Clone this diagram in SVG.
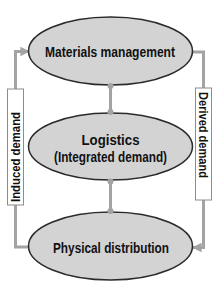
<svg xmlns="http://www.w3.org/2000/svg" width="223" height="293" viewBox="0 0 223 293">
<style>
.bg{fill:#ffffff}
.conn{fill:none;stroke:#a3a3a3;stroke-width:3}
.dot{fill:#a3a3a3}
.node{fill:#d3d3d3;stroke:#2a2a2a;stroke-width:1.5}
.lbl{fill:#ffffff;stroke:#8c8c8c;stroke-width:1}
.t{font-family:"Liberation Sans",Arial,sans-serif;font-weight:bold;fill:#111;text-anchor:middle}
.big{font-size:15px}
.small{font-size:12px}
</style>
<defs>
<marker id="arr" viewBox="0 0 10 10" refX="9" refY="5" markerWidth="3.2" markerHeight="3.2" orient="auto" markerUnits="strokeWidth">
<path d="M0,0 L10,5 L0,10 Z" fill="#a3a3a3"/>
</marker>
</defs>
<rect class="bg" x="0" y="0" width="223" height="293"/>
<g id="connectors">
<path class="conn" d="M15.5,90 V51.5 H29" marker-end="url(#arr)"/>
<path class="conn" d="M15.5,205 V247 H32"/>
<path class="conn" d="M190,52 H203.5 V89"/>
<path class="conn" d="M203.5,200 V247.5 H193" marker-end="url(#arr)"/>
<line class="conn" x1="110.5" y1="86" x2="110.5" y2="112"/>
<line class="conn" x1="110.5" y1="181" x2="110.5" y2="211"/>
</g>
<g id="materials-management">
<ellipse class="node" cx="110.5" cy="51" rx="82" ry="34"/>
<text class="t big" x="110" y="57" textLength="130" lengthAdjust="spacingAndGlyphs">Materials management</text>
</g>
<g id="logistics">
<ellipse class="node" cx="110.5" cy="146.5" rx="82" ry="33.5"/>
<text class="t big" x="110.5" y="144.5" textLength="58" lengthAdjust="spacingAndGlyphs">Logistics</text>
<text class="t big" x="110.5" y="161.5" textLength="113" lengthAdjust="spacingAndGlyphs">(Integrated demand)</text>
</g>
<g id="physical-distribution">
<ellipse class="node" cx="110.5" cy="246" rx="82" ry="34"/>
<text class="t big" x="111" y="252.5" textLength="116" lengthAdjust="spacingAndGlyphs">Physical distribution</text>
</g>
<g id="dots">
<circle class="dot" cx="110.5" cy="86" r="3"/>
<circle class="dot" cx="110.5" cy="112" r="3"/>
<circle class="dot" cx="110.5" cy="181.5" r="3"/>
<circle class="dot" cx="110.5" cy="211" r="3"/>
</g>
<g id="induced-demand">
<rect class="lbl" x="7.5" y="89" width="16" height="116"/>
<text class="t small" transform="translate(19.8,157) rotate(-90)" x="0" y="0" textLength="90" lengthAdjust="spacingAndGlyphs">Induced demand</text>
</g>
<g id="derived-demand">
<rect class="lbl" x="195.5" y="88" width="16" height="112"/>
<text class="t small" transform="translate(199.2,135) rotate(90)" x="0" y="0" textLength="86" lengthAdjust="spacingAndGlyphs">Derived demand</text>
</g>
</svg>
